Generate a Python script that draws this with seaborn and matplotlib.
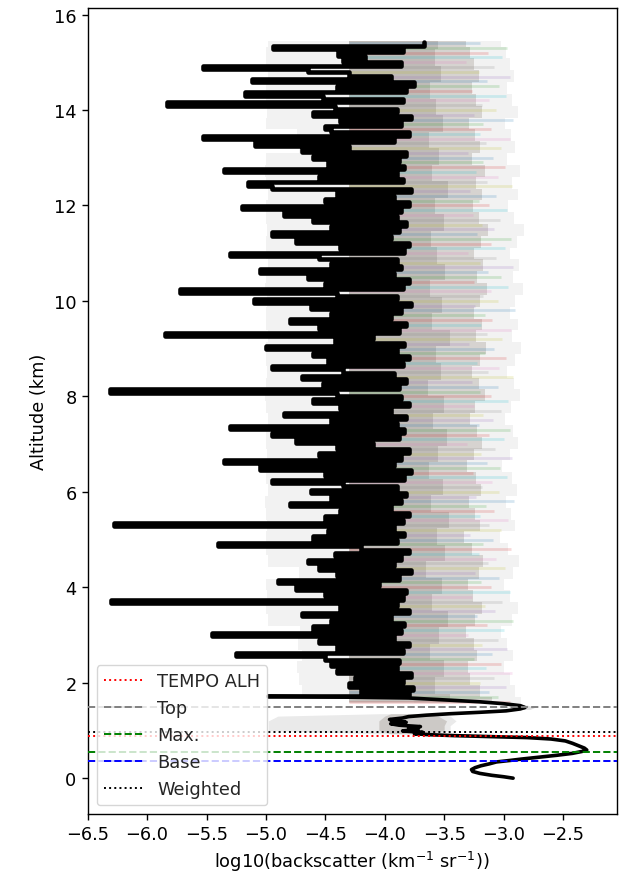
"""Lidar backscatter profile with aerosol layer height markers."""

import matplotlib
matplotlib.use("Agg")
import matplotlib.pyplot as plt
import numpy as np
import seaborn as sns

sns.set_style("ticks")
plt.rcParams["font.family"] = ["DejaVu Sans"]
plt.rcParams["axes.edgecolor"] = "black"
plt.rcParams["xtick.color"] = "black"
plt.rcParams["ytick.color"] = "black"
plt.rcParams["axes.labelcolor"] = "black"

# ---------------------------------------------------------------------------
# Black mean profile, smooth lower part (altitude km, log10 backscatter)
# ---------------------------------------------------------------------------
low_alt = [0.00, 0.03, 0.06, 0.10, 0.14, 0.18, 0.22, 0.26, 0.30, 0.34,
           0.37, 0.40, 0.44, 0.48, 0.52, 0.56, 0.59, 0.63, 0.68, 0.73,
           0.78, 0.82, 0.85, 0.87, 0.89, 0.91, 0.93, 0.96, 0.99, 1.02,
           1.05, 1.08, 1.11, 1.14, 1.17, 1.20, 1.23, 1.26, 1.29, 1.32,
           1.35, 1.38, 1.41, 1.45, 1.48, 1.52, 1.56, 1.60, 1.64, 1.68,
           1.72]
low_val = [-2.92, -3.00, -3.10, -3.20, -3.26, -3.27, -3.24, -3.19, -3.12, -3.06,
           -2.95, -2.85, -2.70, -2.55, -2.42, -2.34, -2.30, -2.32, -2.37, -2.42,
           -2.48, -2.60, -2.80, -3.10, -3.40, -3.62, -3.75, -3.68, -3.85, -3.72,
           -3.80, -3.70, -3.88, -3.95, -3.82, -3.93, -3.96, -3.85, -3.80, -3.65,
           -3.45, -3.20, -2.98, -2.86, -2.82, -2.86, -3.00, -3.20, -3.50, -3.80,
           -4.98]

# noisy upper part, 1.78 km to 15.42 km
high_val = [
    -3.80, -4.20, -3.76, -4.30, -3.85, -4.25, -3.78, -4.40, -3.90, -4.45,
    -3.88, -4.50, -5.25, -3.85, -4.40, -3.80, -4.55, -3.92, -5.45, -3.86,
    -4.60, -3.84, -4.45, -3.95, -4.70, -3.80, -4.38, -3.90, -6.30, -3.85,
    -4.50, -3.82, -4.75, -4.05, -4.90, -3.88, -4.40, -3.78, -4.55, -3.92,
    -4.65, -3.86, -4.42, -3.80, -4.20, -5.40, -3.90, -4.60, -3.84, -4.48,
    -3.92, -6.28, -3.85, -4.50, -3.80, -4.38, -3.95, -4.80, -3.86, -4.45,
    -3.82, -4.62, -3.90, -4.35, -4.95, -3.84, -4.50, -3.78, -5.05, -3.92,
    -5.35, -3.86, -4.55, -3.80, -4.40, -4.10, -4.75, -3.88, -4.95, -3.84,
    -5.30, -3.90, -4.45, -3.82, -4.85, -3.95, -4.38, -3.80, -4.60, -3.86,
    -4.40, -6.31, -3.88, -4.52, -3.82, -4.70, -3.92, -4.35, -4.95, -3.85,
    -4.48, -3.80, -4.60, -3.90, -5.00, -3.84, -4.42, -4.10, -5.85, -3.88,
    -4.55, -3.82, -4.80, -3.95, -4.45, -3.86, -4.62, -3.78, -5.10, -3.90,
    -4.40, -5.72, -3.85, -4.50, -3.80, -4.65, -3.92, -5.05, -3.86, -4.45,
    -3.90, -4.55, -5.30, -3.84, -4.38, -3.80, -4.75, -3.95, -4.95, -3.88,
    -4.45, -3.82, -4.60, -3.90, -4.85, -3.86, -5.20, -3.80, -4.50, -3.92,
    -4.40, -3.78, -4.95, -5.15, -3.85, -4.55, -3.90, -5.35, -3.84, -4.48,
    -3.88, -4.60, -3.82, -4.70, -4.30, -5.09, -3.92, -5.53, -3.80, -4.45,
    -4.50, -3.86, -4.38, -3.78, -4.60, -3.90, -4.42, -5.83, -3.85, -4.52,
    -5.18, -3.82, -4.40, -3.75, -5.12, -3.95, -4.30, -4.65, -5.53, -3.86,
    -4.35, -4.17, -4.39, -3.85, -4.94, -3.67,
]
high_alt = np.linspace(1.78, 15.42, len(high_val))

# ---------------------------------------------------------------------------
# Spread of the individual profiles (faint envelope behind the mean)
# ---------------------------------------------------------------------------
blob_alt = [0.93, 1.00, 1.10, 1.20, 1.30, 1.35]
blob_left = [-4.05, -4.98, -4.98, -4.98, -4.90, -4.05]
blob_right = [-3.55, -3.45, -3.45, -3.40, -3.45, -3.60]
blob_core_left = [-3.95, -4.05, -4.05, -4.05, -4.00, -3.95]
blob_core_right = [-3.65, -3.50, -3.50, -3.48, -3.55, -3.70]

peak_alt = [1.44, 1.48, 1.53]
peak_left = [-2.95, -2.92, -2.95]
peak_right = [-2.78, -2.74, -2.80]

hz_left = [
    -3.75, -4.70, -4.72, -4.74, -4.70, -4.73, -4.71, -4.98, -5.00, -4.99,
    -5.00, -4.72, -4.98, -5.00, -5.00, -4.99, -5.00, -5.01, -4.98, -5.00,
    -5.00, -4.99, -5.00, -5.00, -4.98, -5.00, -5.01, -5.00, -4.99, -5.00,
    -5.00, -4.98, -5.00, -5.00, -4.99, -5.01, -5.00, -4.98, -5.00, -5.00,
    -4.99, -5.00, -5.00, -4.98, -5.00, -5.01, -5.00, -4.72, -4.74, -5.00,
    -4.99, -5.00, -5.00, -4.98, -5.00, -5.00, -4.98,
]
hz_outer = [
    -2.85, -2.90, -2.95, -3.00, -2.92, -2.97, -3.02, -2.93, -2.88, -2.95,
    -3.00, -2.92, -2.87, -2.96, -3.03, -2.90, -2.94, -2.98, -2.89, -2.93,
    -3.01, -2.95, -2.88, -2.92, -2.99, -2.94, -2.86, -2.91, -2.97, -2.90,
    -2.85, -2.93, -2.88, -2.95, -2.90, -2.84, -2.92, -2.87, -2.95, -2.89,
    -2.83, -2.91, -2.96, -2.88, -2.93, -2.86, -2.97, -2.90, -2.94, -2.99,
    -2.88, -2.93, -2.97, -2.91, -2.95, -2.98, -3.02,
]
hz_dense = [
    -3.10, -3.20, -3.28, -3.30, -3.22, -3.25, -3.32, -3.24, -3.18, -3.26,
    -3.30, -3.21, -3.17, -3.27, -3.33, -3.20, -3.24, -3.29, -3.19, -3.23,
    -3.31, -3.25, -3.18, -3.22, -3.28, -3.24, -3.16, -3.21, -3.27, -3.20,
    -3.15, -3.23, -3.18, -3.25, -3.20, -3.14, -3.22, -3.17, -3.25, -3.19,
    -3.13, -3.21, -3.26, -3.18, -3.23, -3.16, -3.27, -3.20, -3.24, -3.29,
    -3.18, -3.23, -3.27, -3.21, -3.25, -3.28, -3.32,
]
hz_alt = np.linspace(1.58, 15.45, len(hz_left))

hz_inner = [
    -3.45, -3.58, -3.50, -3.62, -3.54, -3.47, -3.60, -3.52, -3.65, -3.49,
    -3.56, -3.46, -3.61, -3.51, -3.63, -3.55, -3.48, -3.59, -3.50, -3.64,
    -3.53, -3.57, -3.45, -3.60, -3.52, -3.62, -3.49, -3.56, -3.61, -3.50,
    -3.58, -3.47, -3.60, -3.54, -3.63, -3.51, -3.57, -3.62, -3.53, -3.58,
    -3.55,
]
DENSE_LEFT = -4.30

# right ends of the individual coloured streaks, every ~0.1 km from 1.6 km
streak_right = [
    -2.95, -3.05, -3.12, -2.98, -3.20, -3.08, -2.93, -3.15, -3.02, -3.25,
    -3.10, -2.97, -3.18, -3.05, -3.30, -3.00, -3.14, -2.92, -3.22, -3.07,
    -3.16, -3.01, -3.27, -2.95, -3.11, -3.19, -3.04, -3.24, -2.99, -3.13,
    -3.06, -3.21, -2.94, -3.17, -3.09, -3.28, -3.02, -3.12, -2.96, -3.20,
    -3.08, -3.15, -2.91, -3.23, -3.04, -3.18, -3.10, -2.97, -3.26, -3.03,
    -3.14, -2.93, -3.19, -3.07, -3.31, -3.00, -3.12, -2.95, -3.21, -3.09,
    -3.17, -3.02, -3.25, -2.96, -3.11, -3.20, -3.05, -3.27, -2.92, -3.13,
    -3.04, -3.22, -2.98, -3.16, -3.08, -3.29, -3.01, -3.14, -2.94, -3.19,
    -3.10, -3.16, -2.90, -3.24, -3.05, -3.17, -3.11, -2.96, -3.25, -3.02,
    -3.13, -2.92, -3.20, -3.06, -3.30, -2.99, -3.11, -2.94, -3.22, -3.08,
    -3.18, -3.03, -3.26, -2.97, -3.12, -3.21, -3.06, -3.28, -2.93, -3.14,
    -3.05, -3.23, -2.99, -3.17, -3.09, -3.30, -3.02, -3.15, -2.95, -3.20,
    -3.11, -3.17, -2.92, -3.25, -3.06, -3.18, -3.12, -2.98, -3.27, -3.04,
    -3.14, -2.95, -3.21, -3.08, -3.32, -3.01, -3.13, -2.97, -3.20,
]
streak_colors = ["tab:red", "tab:green", "tab:blue", "tab:purple",
                 "tab:olive", "tab:gray", "tab:pink", "tab:cyan"]

# ---------------------------------------------------------------------------
# Layer heights (km)
# ---------------------------------------------------------------------------
heights = {
    "TEMPO ALH": 0.88,
    "Top": 1.49,
    "Max.": 0.55,
    "Base": 0.37,
    "Weighted": 0.975,
}
styles = {
    "TEMPO ALH": ("red", ":"),
    "Top": ("gray", "--"),
    "Max.": ("green", "--"),
    "Base": ("blue", "--"),
    "Weighted": ("black", ":"),
}

FS = 12.8

fig = plt.figure(figsize=(6.19, 8.78), dpi=100)
ax = fig.add_axes([0.1417, 0.0718, 0.8546, 0.9176])

# envelope of the individual profiles
ax.fill_betweenx(hz_alt, hz_left, hz_outer, step="mid", color="#dadada",
                 alpha=0.35, lw=0, zorder=1)
ax.fill_betweenx(hz_alt, DENSE_LEFT, hz_dense, step="mid", color="#bcb6b0",
                 alpha=0.5, lw=0, zorder=1)
ax.fill_betweenx(np.linspace(1.6, 15.45, len(hz_inner)), DENSE_LEFT,
                 hz_inner, step="mid", color="#a59f99", alpha=0.45, lw=0,
                 zorder=1)
streak_alt = np.linspace(1.6, 15.4, len(streak_right))
ax.hlines(streak_alt, DENSE_LEFT, streak_right,
          colors=[streak_colors[i % len(streak_colors)]
                  for i in range(len(streak_right))],
          alpha=0.18, lw=2.0, zorder=1)
ax.fill_betweenx(blob_alt, blob_left, blob_right, color="#dcdcdc",
                 alpha=0.6, lw=0, zorder=1)
ax.fill_betweenx(blob_alt, blob_core_left, blob_core_right, color="#b0aaa4",
                 alpha=0.5, lw=0, zorder=1)
ax.fill_betweenx(peak_alt, peak_left, peak_right, color="#cfcfcf",
                 alpha=0.7, lw=0, zorder=1)

# mean profile
sns.lineplot(x=low_val, y=low_alt, sort=False, estimator=None,
             color="black", lw=2.6, ax=ax, zorder=2)
sns.lineplot(x=[low_val[-1]] + high_val, y=[low_alt[-1]] + list(high_alt),
             sort=False, estimator=None, color="black", lw=3.3,
             drawstyle="steps-post", ax=ax, zorder=2)

for name, h in heights.items():
    col, ls = styles[name]
    ax.axhline(h, color=col, ls=ls, lw=1.4, label=name, zorder=3)

ax.set_xlim(-6.5, -2.048)
ax.set_ylim(-0.75, 16.13)
ax.set_xticks(np.arange(-6.5, -2.4, 0.5))
ax.set_yticks(np.arange(0, 17, 2))
ax.set_xlabel(r"log10(backscatter (km$^{-1}$ sr$^{-1}$))", fontsize=FS)
ax.set_ylabel("Altitude (km)", fontsize=FS)
ax.tick_params(labelsize=FS, length=4.5, width=1)
for sp in ax.spines.values():
    sp.set_linewidth(1)
ax.legend(loc="lower left", fontsize=FS, handlelength=2.2)

fig.savefig("out.png", dpi=100)
